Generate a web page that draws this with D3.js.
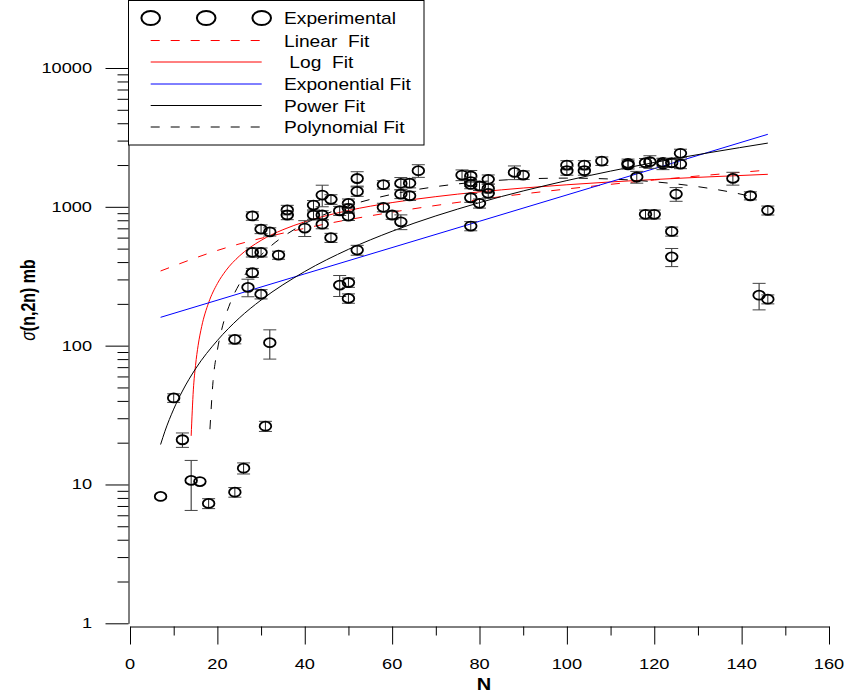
<!DOCTYPE html>
<html><head><meta charset="utf-8">
<script src="https://cdn.jsdelivr.net/npm/d3@7"></script>
<style>
body{margin:0;background:#fff}
svg{display:block}
text{font-family:"Liberation Sans",Arial,sans-serif;fill:#000}
</style>
</head><body>
<svg id="c" width="844" height="694"></svg>
<script>
// ---------- data ----------
const expN = [7,10,12,14,16,18,24,26,24,31,32,
  27,28,28,28,30,30,30,32,34,36,36,40,42,42,44,44,44,46,46,48,48,50,50,50,50,50,52,52,52,
  58,58,60,62,62,62,64,64,66,76,78,78,78,80,78,80,78,82,82,82,88,90,100,100,104,104,108,
  114,114,116,118,119,118,120,122,122,124,126,126,125,124,124,138,142,146,144,146];
const expSigma = [8.2,42,21,10.7,10.5,7.3,8.8,13.1,111,26.3,105,
  263,335,470,860,470,235,691,661,449,950,873,703,1030,873,1216,873,750,1132,599,937,273,1059,975,857,285,219,1600,1290,488,
  1443,991,873,1475,1236,780,1480,1202,1820,1694,1667,1517,1450,1412,1162,1059,727,1577,1358,1250,1770,1694,2000,1820,2000,1820,2137,
  2057,2010,1640,2078,2113,883,883,2033,2090,2078,2430,2033,1236,665,436,1603,1202,943,231,216];
const expErr = [0,3,2.5,4.2,0,0.6,0.7,1.2,8,2.2,25,
  38,25,35,60,35,18,50,45,30,75,65,92,80,60,215,65,55,90,45,70,47,80,75,60,22,17,190,100,40,
  100,70,60,150,90,95,110,90,190,150,160,110,100,100,85,80,55,120,100,90,200,120,150,130,150,130,150,
  150,140,160,150,220,65,65,180,150,150,170,150,140,50,65,170,80,70,50,16];

const linearN = [7,20,40,60,80,100,120,146];
const linearSigma = [345,485,700,915,1130,1345,1560,1840];

const logN = [14,14.5,15,15.6,16.4,18,20,22,25,30,35,40,50,60,70,80,90,100,110,120,130,146];
const logSigma = [22.4,48,72,100.6,137,204,280,349,441,573,684,780,941,1073,1184,1281,1366,1442,1511,1573,1631,1715];

const expFitN = [7,40,80,120,146];
const expFitSigma = [160,329,787,1884,3330];

const powN = [7,8,10,12,15,20,25,30,40,50,60,80,100,120,146];
const powSigma = [19.4,24.2,34.9,47.1,68.1,109,158,213,342,494,667,1072,1546,2086,2878];

const polyN = [18.3,19,20,21,23,25,28,32,36,40,50,60,70,80,90,100,110,120,130,138,143];
const polySigma = [25,55,93,131,205,277,381,514,639,757,1017,1231,1397,1515,1586,1610,1586,1515,1397,1268,1172];

const xMajor = [0,20,40,60,80,100,120,140,160];
const xMinor = [10,30,50,70,90,110,130,150];
const yMajor = [1,10,100,1000,10000];
const yMinor = [2,3,4,5,6,7,8,9,20,30,40,50,60,70,80,90,200,300,400,500,600,700,800,900,2000,3000,4000,5000,6000,7000,8000,9000];

const legendLabels = ["Experimental","Linear  Fit"," Log  Fit","Exponential Fit","Power Fit","Polynomial Fit"];

// ---------- drawing ----------
const svg = d3.select("#c");
const x = d3.scaleLinear().domain([0,160]).range([130,829]);
const y = d3.scaleLog().domain([1,10000]).range([623.3,68]);
const SX = 1.3;

// x axis
const gx = svg.append("g").attr("transform","translate(0,626.5)").style("color","#000");
gx.call(d3.axisBottom(x).tickValues(xMajor).tickSize(18).tickSizeOuter(0).tickFormat(""));
const gx2 = svg.append("g").attr("transform","translate(0,626.5)").style("color","#000");
gx2.call(d3.axisBottom(x).tickValues(xMinor).tickSize(9).tickSizeOuter(0).tickFormat(""));
gx2.select(".domain").remove();
xMajor.forEach(v=>{
  svg.append("text").attr("transform",`translate(${x(v)},669) scale(${SX},1)`)
    .attr("text-anchor","middle").style("font-size","14px").text(v);
});
svg.append("text").attr("transform",`translate(${x(81)},690) scale(1.25,1)`)
  .attr("text-anchor","middle").style("font-size","16px").style("font-weight","bold").text("N");

// y axis
const gy = svg.append("g").attr("transform","translate(128.5,0)").style("color","#000");
gy.call(d3.axisLeft(y).tickValues(yMajor).tickSize(23).tickSizeOuter(0).tickFormat(""));
const gy2 = svg.append("g").attr("transform","translate(128.5,0)").style("color","#000");
gy2.call(d3.axisLeft(y).tickValues(yMinor).tickSize(11).tickSizeOuter(0).tickFormat(""));
gy2.select(".domain").remove();
yMajor.forEach(v=>{
  svg.append("text").attr("transform",`translate(92,${y(v)+5}) scale(${SX},1)`)
    .attr("text-anchor","end").style("font-size","14px").text(v);
});
const yt = svg.append("text").attr("transform","translate(35,300) rotate(-90) scale(1,1.3)")
  .attr("text-anchor","middle").style("font-size","16px").style("font-weight","bold");
yt.append("tspan").style("font-weight","normal").style("font-style","italic").text("σ");
yt.append("tspan").text("(n,2n) mb");

// fit lines
const line = d3.line().x(d=>x(d[0])).y(d=>y(d[1])).curve(d3.curveMonotoneX);
const fits = [
  {n:linearN, s:linearSigma, color:"#ff0000", dash:"9,11"},
  {n:logN, s:logSigma, color:"#ff0000", dash:null},
  {n:expFitN, s:expFitSigma, color:"#0000ff", dash:null},
  {n:powN, s:powSigma, color:"#000000", dash:null},
  {n:polyN, s:polySigma, color:"#000000", dash:"9,11"}
];
fits.forEach(f=>{
  svg.append("path").datum(d3.zip(f.n,f.s)).attr("d",line)
    .attr("fill","none").attr("stroke",f.color).attr("stroke-width",1)
    .attr("stroke-dasharray",f.dash);
});

// experimental points with error bars
const pts = d3.zip(expN,expSigma,expErr);
const gp = svg.append("g");
pts.forEach(([n,s,e])=>{
  const cx = x(n), cy = y(s);
  if(e>0){
    const y1 = y(s+e), y2 = y(Math.max(s-e, 0.5));
    gp.append("line").attr("x1",cx).attr("x2",cx).attr("y1",y1).attr("y2",y2).attr("stroke","#222").attr("stroke-width",1);
    [y1,y2].forEach(yy=>gp.append("line").attr("x1",cx-6.5).attr("x2",cx+6.5).attr("y1",yy).attr("y2",yy).attr("stroke","#444").attr("stroke-width",1));
  }
  gp.append("ellipse").attr("cx",cx).attr("cy",cy).attr("rx",5.8).attr("ry",4.5)
    .attr("fill","none").attr("stroke","#000").attr("stroke-width",1.8);
});

// legend
const lg = svg.append("g");
lg.append("rect").attr("x",128.5).attr("y",0.5).attr("width",295.5).attr("height",144.5)
  .attr("fill","#fff").attr("stroke","#000").attr("stroke-width",1);
const rowY = [18,40.5,62,84,105.5,127];
const lx1 = 150.7, lx2 = 261.7;
[lx1, (lx1+lx2)/2, lx2].forEach(cx=>{
  lg.append("ellipse").attr("cx",cx).attr("cy",rowY[0]).attr("rx",9.3).attr("ry",7)
    .attr("fill","none").attr("stroke","#000").attr("stroke-width",2);
});
fits.forEach((f,i)=>{
  lg.append("line").attr("x1",lx1).attr("x2",lx2).attr("y1",rowY[i+1]).attr("y2",rowY[i+1])
    .attr("stroke",f.color).attr("stroke-width",1).attr("stroke-dasharray",f.dash);
});
legendLabels.forEach((t,i)=>{
  lg.append("text").attr("transform",`translate(284,${rowY[i]+6}) scale(1.2,1)`)
    .style("font-size","16px").style("white-space","pre").attr("xml:space","preserve").text(t);
});
</script>
</body></html>
